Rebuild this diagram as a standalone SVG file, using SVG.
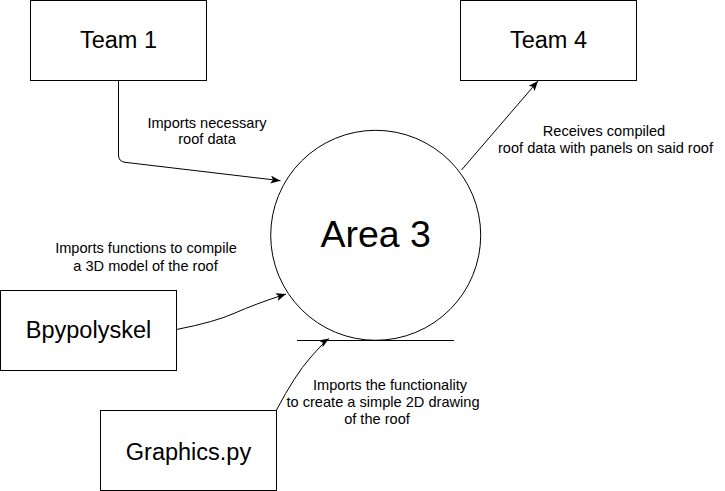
<svg xmlns="http://www.w3.org/2000/svg" width="725" height="491" viewBox="0 0 725 491">
<style>
.box{fill:#fff;stroke:#000;stroke-width:1}
.big{font-family:"Liberation Sans",Arial,sans-serif;font-size:23.5px;fill:#000;text-anchor:middle}
.lbl{font-family:"Liberation Sans",Arial,sans-serif;font-size:14.6px;fill:#000;text-anchor:middle}
.edge{fill:none;stroke:#000;stroke-width:1;marker-end:url(#arr)}
</style>
<defs>
<marker id="arr" markerUnits="userSpaceOnUse" markerWidth="12" markerHeight="10" refX="10" refY="4" orient="auto">
<path d="M0,0 L10,4 L0,8 L2.5,4 Z" fill="#000"/>
</marker>
</defs>
<rect width="725" height="491" fill="#fff"/>
<g id="area3">
<circle cx="375.7" cy="235.3" r="105" fill="#fff" stroke="#000" stroke-width="1"/>
<text x="375.7" y="246.7" font-family="Liberation Sans, Arial, sans-serif" font-size="37.5" text-anchor="middle">Area 3</text>
</g>
<g id="baseline">
<path d="M297,340.5 H454" stroke="#000" stroke-width="1"/>
</g>
<g id="team1">
<rect class="box" x="30.5" y="0.5" width="176" height="80"/>
<text class="big" x="118.5" y="48.3">Team 1</text>
</g>
<g id="team4">
<rect class="box" x="460.5" y="0.5" width="176" height="80"/>
<text class="big" x="548.5" y="48.3">Team 4</text>
</g>
<g id="bpypolyskel">
<rect class="box" x="0.5" y="290.5" width="176" height="80"/>
<text class="big" x="88.5" y="338.3">Bpypolyskel</text>
</g>
<g id="graphics">
<rect class="box" x="100.5" y="410.5" width="176" height="80"/>
<text class="big" x="188.5" y="460">Graphics.py</text>
</g>
<g id="connectors">
<path class="edge" d="M118.5,80.5 V155 Q118.5,161.5 125,162.3 L280.5,180.7"/>
<path class="edge" d="M461.5,170 L538,81"/>
<path class="edge" d="M176.5,329.5 Q215,322 235,313 T286,294"/>
<path class="edge" d="M276.5,410 Q295,375 310,358 T329,338.5"/>
</g>
<g id="labels">
<text class="lbl" x="207" y="127.7">Imports necessary</text>
<text class="lbl" x="207" y="144.3">roof data</text>
<text class="lbl" x="604" y="135.7">Receives compiled</text>
<text class="lbl" x="605.5" y="152.7">roof data with panels on said roof</text>
<text class="lbl" x="146" y="253.3">Imports functions to compile</text>
<text class="lbl" x="145.5" y="270.7">a 3D model of the roof</text>
<text class="lbl" x="390" y="390">Imports the functionality</text>
<text class="lbl" x="383" y="406.7">to create a simple 2D drawing</text>
<text class="lbl" x="377" y="424">of the roof</text>
</g>
</svg>
